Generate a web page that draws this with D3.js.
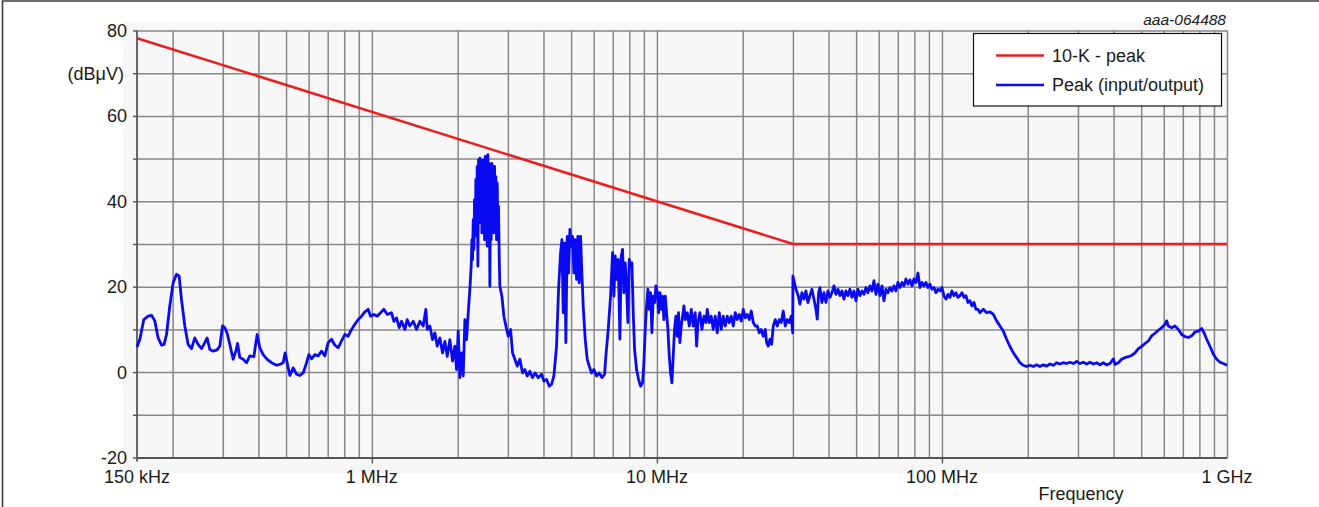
<!DOCTYPE html>
<html><head><meta charset="utf-8">
<script src="https://cdn.jsdelivr.net/npm/d3@7"></script>
<style>
html,body{margin:0;padding:0;background:#fff;}
svg{display:block;font-family:"Liberation Sans",Arial,Helvetica,sans-serif;}
</style></head><body>
<svg id="chart" width="1319" height="507"></svg>
<script>
// ---------- data ----------
const xTickValues = [0.15, 1, 10, 100, 1000];
const xTickLabels = ["150 kHz", "1 MHz", "10 MHz", "100 MHz", "1 GHz"];
const yTickValues = [-20, 0, 20, 40, 60, 80];
const yGridValues = [-20, -10, 0, 10, 20, 30, 40, 50, 60, 70, 80];
const seriesNames = ["10-K - peak", "Peak (input/output)"];
const docId = "aaa-064488";
const yUnit = "(dBμV)";
const xTitle = "Frequency";

// limit line: [MHz, dBµV]
const limitLine = [[0.15, 78.2], [30, 30], [1000, 30]];

// measured peak trace: [MHz, dBµV]
const peakLow = [[0.150,5.9],[0.1535,7.7],[0.1585,12.3],[0.1641,13.1],[0.1687,13.3],[0.1732,12.0],[0.1779,8.0],[0.1829,6.3],[0.1867,6.5],[0.1904,8.8],[0.1955,15.5],[0.2008,20.9],[0.2064,22.9],[0.2108,22.5],[0.2149,17.0],[0.2207,10.8],[0.2266,6.5],[0.2330,5.5],[0.2392,8.0],[0.2457,6.5],[0.2526,5.5],[0.2594,6.9],[0.2643,8.0],[0.2701,5.3],[0.2774,4.9],[0.2866,5.2],[0.2929,6.1],[0.2993,10.8],[0.3049,10.4],[0.3107,9.1],[0.3175,6.5],[0.3261,3.0],[0.3333,4.9],[0.3379,6.7],[0.3442,3.4],[0.3535,3.0],[0.3634,2.2],[0.3731,3.8],[0.3855,3.6],[0.3959,8.8],[0.4046,5.7],[0.4155,4.1],[0.4292,3.0],[0.4446,2.2],[0.4629,1.6],[0.4754,1.8],[0.4883,2.2],[0.4963,4.5],[0.5044,2.2],[0.5156,-0.8],[0.5296,1.0],[0.5443,-0.5],[0.5590,-0.8],[0.5741,-0.2],[0.5902,2.2],[0.6011,4.1],[0.6143,3.1],[0.6310,4.1],[0.6480,3.8],[0.6660,4.9],[0.6840,3.8],[0.7027,6.9],[0.7222,7.7],[0.7417,6.3],[0.7616,5.7],[0.7829,7.3],[0.8040,8.8],[0.8257,8.4],[0.8487,10.0],[0.8717,11.2],[0.8953,12.3],[0.9203,13.1],[0.9450,14.1],[0.9705,14.7],[0.9895,13.1],[1.016,13.5],[1.044,13.1],[1.073,13.9],[1.102,14.7],[1.132,13.5]];

const peakMid = [[1.172,13.9],[1.195,11.9],[1.221,12.7],[1.247,10.4],[1.271,11.9],[1.306,10.0],[1.330,12.3],[1.359,10.8],[1.397,11.9],[1.435,10.0],[1.474,11.9],[1.514,10.8],[1.547,14.7],[1.564,10.0],[1.598,10.8],[1.633,7.6],[1.664,9.2],[1.695,6.1],[1.732,8.0],[1.770,4.5],[1.804,7.2],[1.838,3.7],[1.878,7.6],[1.919,2.6],[1.955,6.1],[1.982,0.6],[2.009,9.6],[2.036,-1.3],[2.064,4.5],[2.092,-0.9],[2.120,12.3],[2.149,7.6],[2.178,13.9],[2.207,19.3],
[2.2312,24.8],[2.2433,31.0],[2.2554,26.3],[2.2676,35.7],[2.2798,28.7],[2.2921,40.4],[2.3045,31.8],[2.3170,45.1],[2.3295,34.1],[2.3421,48.2],[2.3547,24.8],[2.3674,49.7],[2.3802,34.9],[2.3930,50.1],[2.4059,38.8],[2.4189,47.4],[2.4320,32.6],[2.4451,49.7],[2.4583,37.3],[2.4716,48.9],[2.4849,31.0],[2.4983,50.5],[2.5118,35.7],[2.5254,50.1],[2.5390,29.5],[2.5527,50.9],[2.5665,34.9],[2.5804,48.9],[2.5943,20.1],[2.6083,47.4],[2.6224,31.0],[2.6366,48.9],[2.6508,36.5],[2.6651,46.6],[2.6795,32.6],[2.6940,48.2],[2.7085,38.8],[2.7231,45.8],[2.7378,31.0],[2.7526,44.3],[2.7675,34.1],[2.7824,38.8],[2.7975,27.1],[2.8126,20.1],
[2.859,17.8],[2.905,13.1],[2.953,10.8],[3.009,8.4],[3.066,10.0],[3.116,4.5],[3.175,3.0],[3.236,1.4],[3.306,3.0],[3.378,-0.2],[3.442,0.6],[3.508,-0.9],[3.584,0.2],[3.662,-1.3],[3.742,-0.2],[3.834,-1.3],[3.939,-0.5],[4.014,-2.1],[4.101,-1.7],[4.190,-3.3],[4.270,-2.9],[4.351,-0.9],[4.446,6.1],[4.518,19.3],[4.592,27.9],[4.642,31.0],[4.692,13.9],[4.743,30.2],[4.794,6.9],[4.846,31.8],[4.899,23.2],[4.952,33.4],[5.005,29.5],[5.060,31.8],[5.114,23.2],[5.170,31.0],[5.226,21.7],[5.282,31.8],[5.340,20.9],[5.397,31.8],[5.456,23.2],[5.515,15.4],[5.605,7.6],[5.696,3.0],[5.789,1.4],[5.899,-0.2],[6.011,0.6],[6.142,-0.9],[6.276,-0.2],[6.413,-1.3],[6.552,-0.5]];

const peakHigh = [[6.623,3.75],[6.749,10.0],[6.878,17.8],[6.990,28.0],[7.065,17.8],[7.142,27.2],[7.219,21.7],[7.317,26.4],[7.416,7.7],[7.497,27.2],[7.578,28.75],[7.660,18.6],[7.743,25.6],[7.827,20.2],[7.911,11.6],[7.997,26.4],[8.084,24.8],[8.171,25.6],[8.260,13.9],[8.349,5.3],[8.485,0.6],[8.624,-1.7],[8.764,-3.3],[8.907,-2.5],[9.003,2.2],[9.101,10.0],[9.199,15.5],[9.299,19.4],[9.400,14.7],[9.502,18.6],[9.604,9.2],[9.709,17.8],[9.814,16.25],[9.920,20.2],[10.03,18.6],[10.14,13.9],[10.25,18.6],[10.36,14.7],[10.47,17.8],[10.58,12.3],[10.70,17.8],[10.81,13.9],[10.93,10.0],[11.05,3.75],[11.17,-0.2],[11.29,-2.5],[11.41,3.75],[11.53,10.0],[11.66,13.1],[11.79,8.4],[11.91,13.9],[12.04,6.9],[12.17,10.8],[12.31,13.1],[12.44,15.5],[12.57,12.3],[12.78,13.9],[12.99,10.8],[13.20,14.7],[13.41,10.8],[13.63,13.9],[13.78,6.1],[13.93,11.6],[14.15,13.9],[14.39,10.0],[14.62,13.1],[14.86,11.6],[15.02,14.7],[15.26,11.6],[15.51,13.1],[15.76,10.0],[16.02,13.1],[16.28,9.2],[16.55,13.9],[16.82,10.0],[17.09,13.1],[17.37,10.8],[17.65,13.1],[17.94,11.6],[18.23,13.1],[18.53,10.8],[18.83,13.9],[19.14,12.3],[19.45,13.5],[19.77,11.95],[20.09,14.7],[20.42,12.7],[20.75,13.5],[21.09,12.3],[21.43,14.3],[21.78,11.6],[22.13,10.8],[22.49,10.8],[22.86,9.2],[23.23,10.0],[23.61,8.4],[24.00,10.0],[24.26,6.9],[24.58,6.1],[24.92,7.7],[25.26,6.5],[25.60,10.8],[26.02,12.3],[26.44,10.8],[26.87,12.3],[27.31,11.6],[27.75,14.3],[28.20,10.8],[28.66,12.3],[29.13,11.6],[29.60,13.1],[29.95,9.2]];

const peakVhf = [[30.0,22.5],[30.74,19.4],[31.33,17.9],[31.75,15.9],[32.27,18.6],[32.79,17.1],[33.33,19.0],[33.87,16.3],[34.42,17.9],[34.98,19.4],[35.55,17.1],[36.13,14.7],[36.52,12.4],[36.92,18.6],[37.32,19.8],[37.93,16.3],[38.55,18.6],[39.17,16.3],[39.81,19.0],[40.46,17.5],[41.12,18.6],[41.79,20.2],[42.47,18.2],[43.16,19.4],[43.86,17.9],[44.58,19.0],[45.31,17.1],[46.04,19.0],[46.79,17.9],[47.56,19.4],[48.33,17.5],[49.12,19.0],[49.92,16.7],[50.73,19.4],[51.56,17.9],[52.40,19.0],[53.25,18.2],[54.12,19.8],[55.00,18.6],[55.90,20.2],[56.81,19.0],[57.73,21.4],[58.67,18.2],[59.63,20.6],[60.60,17.9],[61.59,20.2],[62.59,16.7],[63.61,19.4],[64.65,18.6],[65.70,19.8],[66.77,19.0],[67.86,20.2],[68.96,19.0],[70.08,21.0],[71.23,19.8],[72.39,21.0],[73.57,20.2],[74.76,21.8],[75.98,20.6],[77.22,21.6],[78.48,20.2],[79.76,21.8],[81.06,21.0],[82.38,23.2],[83.72,19.8],[85.08,21.0],[86.47,20.2],[87.88,21.0],[89.31,19.8],[90.76,20.6],[92.24,19.4],[93.74,19.8],[95.27,18.6],[96.82,19.4],[98.40,19.0],[100.0,19.8],[101.6,17.9],[103.3,17.1],[105.0,18.2],[106.7,17.5],[108.4,19.0],[110.2,17.9],[112.0,18.6],[113.8,17.5],[115.7,17.9],[117.5,18.6],[119.5,17.5],[121.4,17.9],[123.4,16.3],[125.4,16.7],[127.4,15.5],[129.5,16.3],[131.6,14.7],[133.8,14.7],[135.9,13.9],[139.7,14.7],[143.5,13.9],[147.4,14.1],[151.4,13.5],[155.5,12.0],[159.8,10.8],[164.1,9.6],[168.6,7.7],[173.2,6.0],[178.0,4.5],[182.8,3.4],[187.8,2.2],[192.9,1.6],[198.2,1.3],[203.6,1.6],[209.2,1.3],[214.9,1.7],[220.7,1.3],[226.8,1.7],[233.0,1.4],[239.3,1.9],[245.9,1.6],[252.6,2.2],[259.5,1.9],[266.5,2.2],[273.8,2.0],[281.3,2.3],[289.0,2.0],[296.9,2.5],[305.0,2.0],[313.3,2.3],[321.8,1.9],[330.6,2.3],[339.7,1.9],[348.9,2.2],[358.5,1.7],[368.2,2.2],[378.3,1.7],[388.6,2.0],[399.2,3.1],[404.6,1.8],[415.7,2.2],[427.0,3.0],[438.7,3.4],[450.7,3.6],[463.0,3.9],[475.6,4.5],[488.6,5.5],[501.9,6.0],[515.6,6.7],[529.7,7.3],[544.2,8.5],[559.0,9.1],[574.3,9.8],[590.0,10.4],[606.1,11.2],[614.3,12.0],[622.6,10.8],[639.6,10.4],[657.1,10.8],[675.0,10.0],[693.5,8.8],[712.4,8.3],[731.8,8.1],[751.8,8.5],[772.3,9.4],[793.4,9.6],[815.1,10.2],[830.6,9.2],[848.7,7.7],[871.9,6.0],[895.7,4.2],[920.1,3.0],[945.2,2.3],[971.0,2.0],[1000,1.6]];

const peakTrace = [].concat(peakLow, peakMid, peakHigh, peakVhf);

// ---------- chart ----------
const svg = d3.select("#chart");
const W = 1319, H = 507;
const mLeft = 137, mRight = 1227, mTop = 30.5, mBottom = 457.5;
const RED = "#ee1c1c", BLUE = "#0a0af2";
const GRID = "#878787";

const x = d3.scaleLog().domain([0.15, 1000]).range([mLeft, mRight]);
const y = d3.scaleLinear().domain([-20, 80]).range([mBottom, mTop]);

// outer frame (top + left)
svg.append("path").attr("d", `M2.5,${H} V1 H${W}`).attr("fill", "none")
  .attr("stroke", "#3c3c3c").attr("stroke-width", 1.6);

// light panel
svg.append("rect").attr("x", 123).attr("y", 22).attr("width", mRight - 123).attr("height", 473 - 22)
  .attr("fill", "#f7f7f7");

// vertical grid
const xGrid = x.ticks().filter(v => v > 0.15 + 1e-9);
svg.append("g").attr("transform", `translate(0,${mBottom})`)
  .call(d3.axisBottom(x).tickValues(xGrid).tickSize(-(mBottom - mTop)).tickFormat(""))
  .call(g => g.select(".domain").remove())
  .call(g => g.selectAll("line").attr("stroke", GRID).attr("stroke-width", 1.5));

// horizontal grid
svg.append("g").attr("transform", `translate(${mLeft},0)`)
  .call(d3.axisLeft(y).tickValues(yGridValues).tickSize(-(mRight - mLeft)).tickFormat(""))
  .call(g => g.select(".domain").remove())
  .call(g => g.selectAll("line").attr("stroke", GRID).attr("stroke-width", 1.5));

// left axis with outer ticks
const yAxis = svg.append("g").attr("transform", `translate(${mLeft},0)`)
  .call(d3.axisLeft(y).tickValues(yGridValues).tickSize(4).tickSizeOuter(0).tickFormat(""));
yAxis.select(".domain").attr("stroke", "#555").attr("stroke-width", 1.8)
  .attr("d", `M0,${mTop}V${mBottom + 4}`);
yAxis.selectAll("line").attr("stroke", "#555").attr("stroke-width", 1.4);

// bottom axis with ticks at labelled decades
const xAxis = svg.append("g").attr("transform", `translate(0,${mBottom})`)
  .call(d3.axisBottom(x).tickValues(xTickValues.slice(1, 4)).tickSize(6).tickSizeOuter(0).tickFormat(""));
xAxis.select(".domain").attr("stroke", "#555").attr("stroke-width", 1.8);
xAxis.selectAll("line").attr("stroke", "#555").attr("stroke-width", 1.4);

// y labels
svg.append("g").selectAll("text").data(yTickValues).join("text")
  .attr("x", 127).attr("y", d => y(d)).attr("dy", "0.36em")
  .attr("text-anchor", "end").attr("font-size", 18).attr("fill", "#1a1a1a")
  .text(d => d);
svg.append("text").attr("x", 124).attr("y", y(70)).attr("dy", "0.36em")
  .attr("text-anchor", "end").attr("font-size", 18).attr("fill", "#1a1a1a").text(yUnit);

// x labels
svg.append("g").selectAll("text").data(xTickValues).join("text")
  .attr("x", d => x(d)).attr("y", 483)
  .attr("text-anchor", "middle").attr("font-size", 18).attr("fill", "#1a1a1a")
  .text((d, i) => xTickLabels[i]);
svg.append("text").attr("x", 1081).attr("y", 500).attr("text-anchor", "middle")
  .attr("font-size", 18).attr("fill", "#1a1a1a").text(xTitle);

// doc id
svg.append("text").attr("x", 1226).attr("y", 25).attr("text-anchor", "end")
  .attr("font-size", 15.5).attr("font-style", "italic").attr("fill", "#1a1a1a").text(docId);

// series
const line = d3.line().x(d => x(d[0])).y(d => y(d[1]));
svg.append("path").datum(peakTrace).attr("d", line).attr("fill", "none")
  .attr("stroke", BLUE).attr("stroke-width", 2.8).attr("stroke-linejoin", "round");
svg.append("path").datum(limitLine).attr("d", line).attr("fill", "none")
  .attr("stroke", RED).attr("stroke-width", 2.5);

// legend
const lg = svg.append("g");
lg.append("rect").attr("x", 973.5).attr("y", 33.5).attr("width", 248).attr("height", 72.5)
  .attr("fill", "#fff").attr("stroke", "#111").attr("stroke-width", 1.2);
const legColors = [RED, BLUE];
seriesNames.forEach((name, i) => {
  const cy = 55.5 + i * 29.5;
  lg.append("line").attr("x1", 996).attr("x2", 1044).attr("y1", cy).attr("y2", cy)
    .attr("stroke", legColors[i]).attr("stroke-width", 2.6);
  lg.append("text").attr("x", 1052).attr("y", cy).attr("dy", "0.36em")
    .attr("font-size", 18).attr("fill", "#1a1a1a").text(name);
});
</script>
</body></html>
